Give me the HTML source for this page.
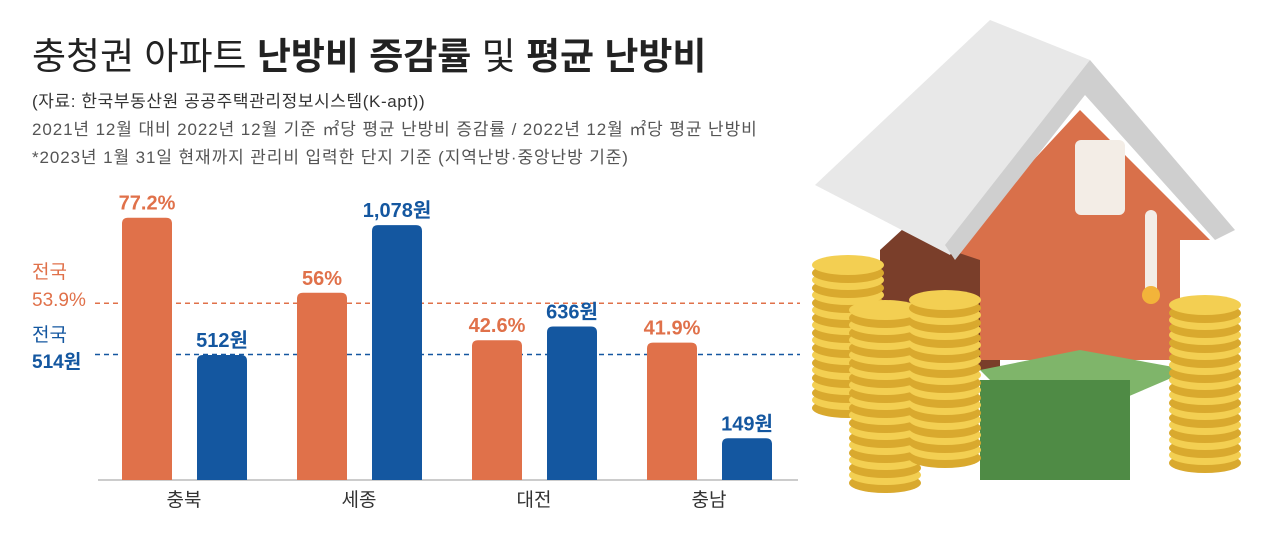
<!DOCTYPE html>
<html><head><meta charset="utf-8">
<style>
body{margin:0;width:1280px;height:540px;background:#fff;overflow:hidden;font-family:"Liberation Sans","Noto Sans CJK KR",sans-serif;position:relative}
.t{position:absolute;white-space:nowrap}
</style></head><body>
<div class="t" style="left:32px;top:26px;font-size:37px;color:#222">충청권 아파트 <b>난방비 증감률</b> 및 <b>평균 난방비</b></div>
<div class="t" style="left:32px;top:87px;font-size:17px;letter-spacing:0.6px;color:#333">(자료: 한국부동산원 공공주택관리정보시스템(K-apt))</div>
<div class="t" style="left:32px;top:115px;font-size:17px;letter-spacing:0.9px;color:#555">2021년 12월 대비 2022년 12월 기준 ㎡당 평균 난방비 증감률 / 2022년 12월 ㎡당 평균 난방비</div>
<div class="t" style="left:32px;top:143px;font-size:17px;letter-spacing:0.9px;color:#555">*2023년 1월 31일 현재까지 관리비 입력한 단지 기준 (지역난방·중앙난방 기준)</div>
<svg id="chart" width="1280" height="540" style="position:absolute;left:0;top:0">
<g id="illus">
 <polygon points="880,250 1000,140 1000,370 880,370" fill="#7a3e2a"/>
 <polygon points="950,250 1080,110 1210,240 1180,240 1180,360 980,360 980,260" fill="#d9704a"/>
 <polygon points="990,20 1090,60 950,255 815,185" fill="#e8e8e8"/>
 <polygon points="1090,60 1235,230 1215,240 1085,95 955,260 945,245" fill="#cfcfcf"/>
 <rect x="1075" y="140" width="50" height="75" rx="6" fill="#f3ede6"/>
 <rect x="1145" y="210" width="12" height="85" rx="6" fill="#f3ede6"/>
 <circle cx="1151" cy="295" r="9" fill="#f2b43a"/>
 <polygon points="980,370 1080,350 1190,370 1120,400 1000,390" fill="#7fb56a"/>
 <rect x="980" y="380" width="150" height="100" fill="#4f8b45"/>
</g>
</svg>
<script>
const regions=["충북","세종","대전","충남"];
const rates=[77.2,56,42.6,41.9];
const costs=[512,1078,636,149];
const rateLabels=["77.2%","56%","42.6%","41.9%"];
const costLabels=["512원","1,078원","636원","149원"];
const natRate=53.9, natCost=514;
const svg=document.getElementById('chart');
const NS='http://www.w3.org/2000/svg';
const base=480;
const yR=v=>base-(3.54*v-11);
const yC=v=>base-(0.2295*v+7.5);
function el(tag,a){const e=document.createElementNS(NS,tag);for(const k in a)e.setAttribute(k,a[k]);svg.appendChild(e);return e;}
function txt(x,y,s,fill,size,weight,anchor){const t=el('text',{x,y,fill,'font-size':size,'font-weight':weight||'normal','text-anchor':anchor||'middle','font-family':'"Liberation Sans","Noto Sans CJK KR",sans-serif'});t.textContent=s;return t;}
const d1=el('line',{x1:95,x2:800,y1:yR(natRate)+3,y2:yR(natRate)+3,stroke:'#e0714a','stroke-width':1.5,'stroke-dasharray':'5,4'});

const d2=el('line',{x1:95,x2:800,y1:yC(natCost),y2:yC(natCost),stroke:'#1457a0','stroke-width':1.5,'stroke-dasharray':'5,4'});

const ax=el('line',{x1:98,x2:798,y1:base,y2:base,stroke:'#999','stroke-width':1});

const a1=txt(32,278,'전국','#e0714a',19);a1.setAttribute('text-anchor','start');

const a2=txt(32,306,natRate+'%','#e0714a',19);a2.setAttribute('text-anchor','start');

const a3=txt(32,341,'전국','#1457a0',19);a3.setAttribute('text-anchor','start');

const a4=txt(32,368,natCost+'원','#1457a0',19,'bold');a4.setAttribute('text-anchor','start');

regions.forEach((r,i)=>{
 const x0=122+i*175;
 const ry=yR(rates[i]);
 const b1=el('path',{d:`M${x0},${base}V${ry+6}Q${x0},${ry} ${x0+6},${ry}H${x0+44}Q${x0+50},${ry} ${x0+50},${ry+6}V${base}Z`,fill:'#e0714a'});
 
 const l1=txt(x0+25,ry-8,rateLabels[i],'#e0714a',20,'bold');
 
 const x1=x0+75, cy=yC(costs[i]);
 const b2=el('path',{d:`M${x1},${base}V${cy+6}Q${x1},${cy} ${x1+6},${cy}H${x1+44}Q${x1+50},${cy} ${x1+50},${cy+6}V${base}Z`,fill:'#1457a0'});
 
 const l2=txt(x1+25,cy-8,costLabels[i],'#1457a0',20,'bold');
 
 const c=txt(x0+62,506,r,'#333',19);
 
});
[[848,265,10],[885,310,12],[945,300,11],[1205,305,11]].forEach(([cx,ty,n])=>{
 for(let k=n-1;k>=0;k--){const y=ty+k*15;
  const c=el('ellipse',{cx,cy:y+8,rx:36,ry:10,fill:'#d9a92e'});
  
  const c2=el('ellipse',{cx,cy:y,rx:36,ry:10,fill:'#f3cf52'});
  
 }
});
</script>
</body></html>
